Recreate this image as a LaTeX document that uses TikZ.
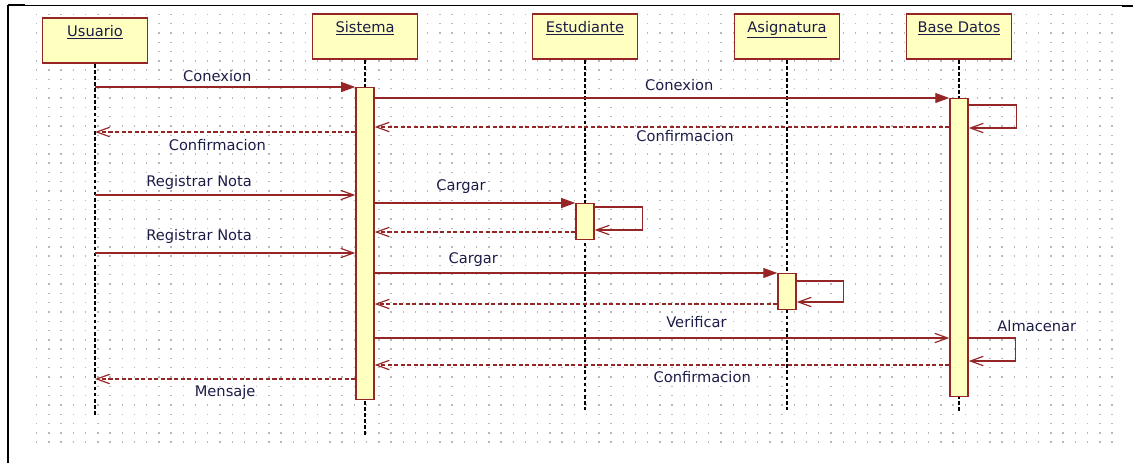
\documentclass[tikz,border=0pt]{standalone}
\usepackage{fontspec}
\setmainfont{DejaVu Sans}
\usepackage{tikz}
\usetikzlibrary{arrows.meta, positioning, calc}

\definecolor{umlred}{RGB}{150,38,38}
\definecolor{umlfill}{RGB}{255,255,192}
\definecolor{umltext}{RGB}{28,28,72}

\begin{document}
\begin{tikzpicture}[
		x=0.03cm, y=-0.03cm,
		font=\fontsize{12.5}{15}\selectfont,
		objeto/.style={rectangle, draw=umlred, fill=umlfill, line width=1.4pt,
			minimum width=3.15cm, inner xsep=0pt, inner ysep=6.5pt,
			text height=9pt, text depth=16.3pt, text=umltext},
		activ/.style={rectangle, draw=umlred, fill=umlfill, line width=1.2pt,
			minimum width=0.54cm, inner sep=0pt, anchor=north},
		vida/.style={black, line width=1.6pt, dash pattern=on 3.2pt off 2pt},
		llamada/.style={-{Triangle[length=12pt, width=8.5pt]}, umlred, line width=1pt},
		mensaje/.style={-{Straight Barb[length=11pt, width=8pt]}, umlred, line width=1pt},
		retorno/.style={mensaje, dash pattern=on 3.5pt off 2.1pt},
		etiq/.style={text=umltext, inner sep=0pt, text height=9pt, text depth=2.6pt},
		puntos/.style={black!28, line width=1.2pt, dash pattern=on 1.2pt off 9.23pt}
		]
		% 1. Rejilla y marco
		\useasboundingbox (0,0) rectangle (1133,463);
		\foreach \j in {0,...,46}
			\draw[puntos] (36,{14.3+9.3*\j}) -- (1117,{14.3+9.3*\j});
		\draw[line width=1.7pt] (8,463) -- (8,5);
		\draw[line width=0.8pt] (8,5) -- (1133,5);
		\draw[line width=1.8pt] (8,5) -- (25,5);
		\draw[line width=1.8pt] (1122,5.8) -- (1133,5.8);
		
		% 2. Objetos
		\node[objeto] (usuario) at (95,40.5) {\underline{Usuario}};
		\node[objeto] (sistema) at (365,36.5) {\underline{Sistema}};
		\node[objeto] (estudiante) at (585,36.5) {\underline{Estudiante}};
		\node[objeto] (asignatura) at (787,36.5) {\underline{Asignatura}};
		\node[objeto] (basedatos) at (959,36.5) {\underline{Base Datos}};
		
		% 3. Lineas de vida
		\coordinate (finUsuario) at (usuario |- 0,415);
		\coordinate (finSistema) at (sistema |- 0,437);
		\coordinate (finEstudiante) at (estudiante |- 0,410);
		\coordinate (finAsignatura) at (asignatura |- 0,410);
		\coordinate (finBase) at (basedatos |- 0,411);
		\draw[vida] (usuario.south) -- (finUsuario);
		\draw[vida] (sistema.south) -- (finSistema);
		\draw[vida] (estudiante.south) -- (finEstudiante);
		\draw[vida] (asignatura.south) -- (finAsignatura);
		\draw[vida] (basedatos.south) -- (finBase);
		
		% 4. Activaciones
		\node[activ, minimum height=9.36cm] (actSistema) at (sistema |- 0,87) {};
		\node[activ, minimum height=1.08cm] (actEstudiante) at (estudiante |- 0,203) {};
		\node[activ, minimum height=1.08cm] (actAsignatura) at (asignatura |- 0,273) {};
		\node[activ, minimum height=8.94cm] (actBase) at (basedatos |- 0,98) {};
		
		% 5. Mensajes
		\draw[llamada] (usuario |- actSistema.north) -- node[etiq, pos=0.47, above=1.35pt]{Conexion} (actSistema.north west);
		\draw[llamada] (actSistema.east |- actBase.north) -- node[etiq, pos=0.53, above=3pt]{Conexion} (actBase.north west);
		\draw[mensaje] (actBase.east |- 0,105) -- ++(48,0) |- (actBase.east |- 0,128);
		\draw[retorno] (actBase.west |- 0,127) -- node[etiq, pos=0.46, below=3.2pt]{Confirmacion} (actSistema.east |- 0,127);
		\draw[retorno] (actSistema.west |- 0,132) -- node[etiq, pos=0.53, below=6.6pt]{Confirmacion} (usuario |- 0,132);
		
		\draw[mensaje] (usuario |- 0,195) -- node[etiq, pos=0.40, above=3.9pt]{Registrar Nota} (actSistema.west |- 0,195);
		\draw[llamada] (actSistema.east |- actEstudiante.north) -- node[etiq, pos=0.43, above=7.3pt]{Cargar} (actEstudiante.north west);
		\draw[mensaje] (actEstudiante.east |- 0,207) -- ++(48,0) |- (actEstudiante.east |- 0,230);
		\draw[retorno] (actEstudiante.west |- 0,232) -- (actSistema.east |- 0,232);
		
		\draw[mensaje] (usuario |- 0,253) -- node[etiq, pos=0.40, above=7.3pt]{Registrar Nota} (actSistema.west |- 0,253);
		\draw[llamada] (actSistema.east |- actAsignatura.north) -- node[etiq, pos=0.245, above=4.75pt]{Cargar} (actAsignatura.north west);
		\draw[mensaje] (actAsignatura.east |- 0,281) -- ++(47,0) |- (actAsignatura.east |- 0,302);
		\draw[retorno] (actAsignatura.west |- 0,304) -- (actSistema.east |- 0,304);
		
		\draw[mensaje] (actSistema.east |- 0,338) -- node[etiq, pos=0.56, above=5.6pt]{Verificar} (actBase.west |- 0,338);
		\draw[mensaje] (actBase.east |- 0,338) -- ++(47,0) node[etiq, above=2.2pt, xshift=18pt]{Almacenar} |- (actBase.east |- 0,361);
		\draw[retorno] (actBase.west |- 0,365) -- node[etiq, pos=0.43, below=5.75pt]{Confirmacion} (actSistema.east |- 0,365);
		\draw[retorno] (actSistema.west |- 0,379) -- node[etiq, pos=0.5, below=5.75pt]{Mensaje} (usuario |- 0,379);
		
	\end{tikzpicture}
\end{document}
